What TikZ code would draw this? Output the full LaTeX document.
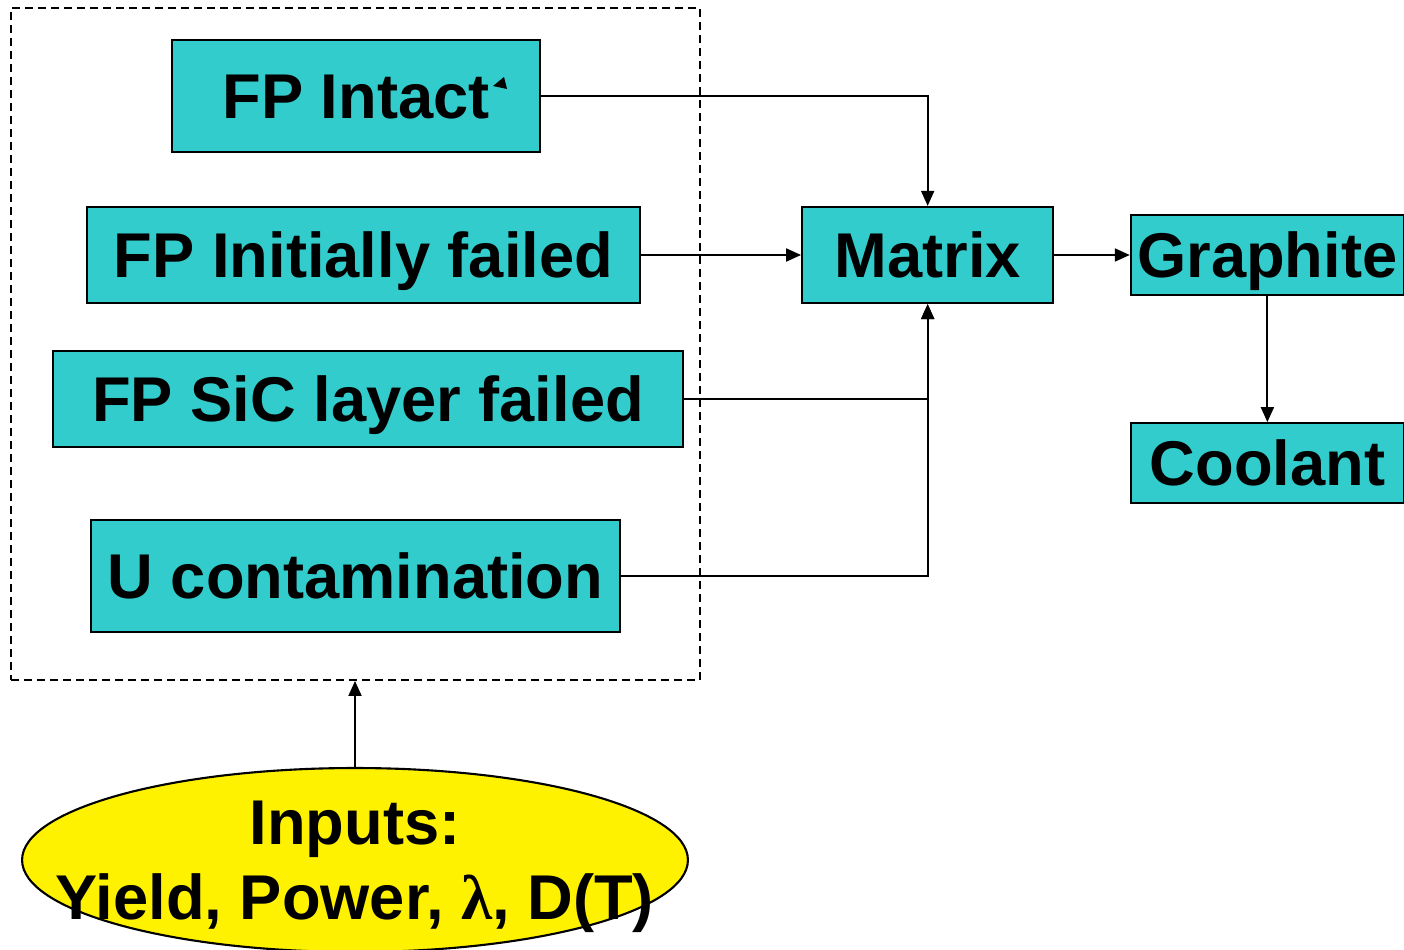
\documentclass[tikz,border=0pt]{standalone}
\usepackage{fontspec}
\setmainfont{Liberation Sans}
\newfontfamily\greekfont{Liberation Serif}
\usetikzlibrary{shapes.geometric}
\usetikzlibrary{arrows.meta, positioning}
\definecolor{boxteal}{RGB}{51,204,204}

\begin{document}
\begin{tikzpicture}[x = 0.02cm, y = -0.02cm, line width = 1.1pt,
    > = {Triangle[length = 3mm, width = 2.6mm]}]
    \tikzset{
      my box/.style={
        draw, fill=boxteal, line width=1.3pt, inner sep=0pt,
        text height=25.8pt, text depth=0pt,
        font=\fontsize{36}{43}\selectfont\bfseries
      },
      my group/.style={
        draw, dash pattern=on 0.16cm off 0.1cm, line width=1.2pt, inner sep=0pt
      },
    }
    \useasboundingbox (0,0) rectangle (1404,950);

    % Group of release sources
    \node (group) [my group, minimum width=13.78cm, minimum height=13.44cm] at (355.5,344) {};
    \node (intact) [my box, minimum width=7.36cm, minimum height=2.24cm] at (356,96) {FP Intact};
    \node (initial) [my box, minimum width=11.06cm, minimum height=1.92cm] at (363.5,255) {FP Initially failed};
    \node (sic) [my box, minimum width=12.6cm, minimum height=1.92cm] at (368,399) {FP SiC layer failed};
    \node (ucont) [my box, minimum width=10.58cm, minimum height=2.24cm] at (355.5,576) {U contamination};
    \fill (493,86) -- (504,77) -- (507,89) -- cycle;

    % Matrix, graphite, coolant
    \node (matrix) [my box, minimum width=5.02cm, minimum height=1.92cm, right=3.2cm of initial] {Matrix};
    \node (graphite) [my box, minimum width=5.46cm, minimum height=1.6cm, right=1.51cm of matrix] {Graphite};
    \node (coolant) [my box, minimum width=5.46cm, minimum height=1.6cm, below=2.52cm of graphite] {Coolant};

    % Inputs
    \node (inputs) [ellipse, draw, fill=yellow, line width=1.2pt,
      minimum width=13.32cm, minimum height=3.68cm] at (355,860) {};
    \node (inputs text) [align=center, font=\fontsize{36}{43}\selectfont\bfseries]
      at (355,867) {Inputs:\\Yield, Power, {\greekfont λ}, D(T)};

    % Arrows
    \draw[->] (intact) -| (matrix);
    \draw[->] (initial) -- (matrix);
    \draw[->] (sic) -| (matrix);
    \draw[->] (ucont) -| (matrix);
    \draw[->] (matrix.east) -- (matrix.east -| graphite.west);
    \draw[->] (graphite) -- (coolant);
    \draw[->] (inputs.north) -- (inputs.north |- group.south);
  \end{tikzpicture}
\end{document}
